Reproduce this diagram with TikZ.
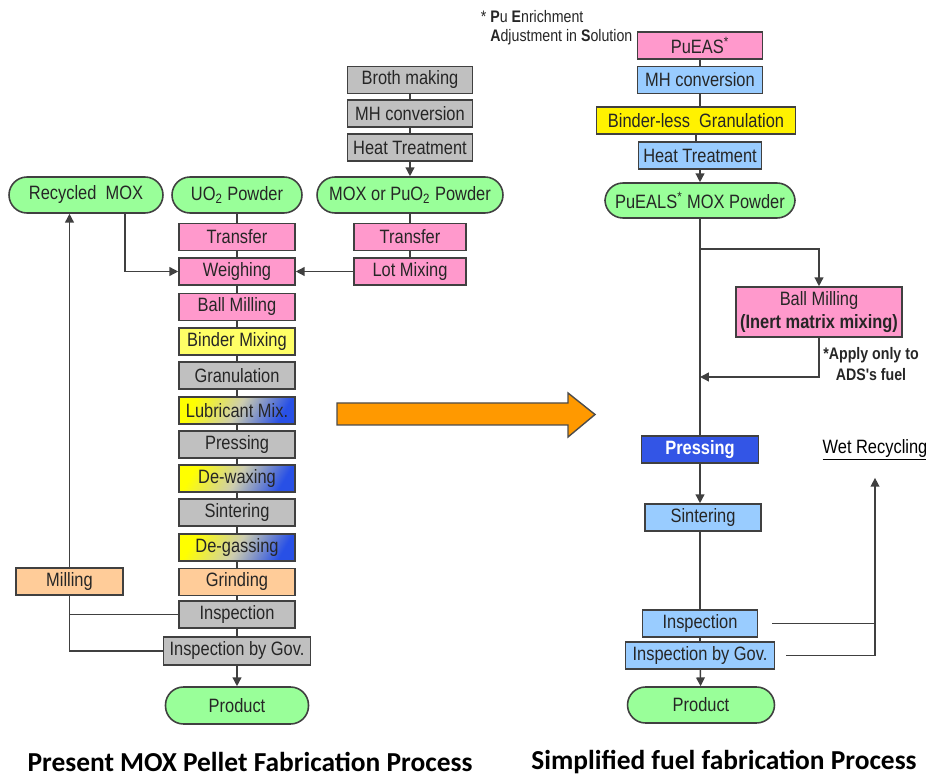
\documentclass[tikz,border=0pt]{standalone}
\usepackage{fontspec}
\setmainfont{Liberation Sans}
\newfontfamily\boxfont[FakeStretch=0.85]{Liberation Sans}
\newfontfamily\titlefont{Carlito}
\usetikzlibrary{calc,arrows.meta}

\definecolor{pinkfill}{HTML}{FF99CC}
\definecolor{grayfill}{HTML}{C0C0C0}
\definecolor{yellowfill}{HTML}{FFFF66}
\definecolor{bluefill}{HTML}{99CCFF}
\definecolor{greenfill}{HTML}{99FF99}
\definecolor{salmonfill}{HTML}{FFCC99}
\definecolor{pressblue}{RGB}{51,85,230}
\definecolor{gradblue}{RGB}{40,80,230}
\definecolor{gradmid}{RGB}{205,205,175}
\definecolor{arroworange}{HTML}{FF9900}

\begin{document}
\begin{tikzpicture}[x=0.02cm, y=-0.02cm,
		font=\boxfont\fontsize{11}{13}\selectfont,
		box/.style={draw=black!75, line width=0.9pt, text=black!85, inner sep=0pt,
			minimum width=2.32cm, minimum height=0.54cm},
		pinkbox/.style={box, fill=pinkfill},
		graybox/.style={box, fill=grayfill},
		yellowbox/.style={box, fill=yellowfill},
		bluebox/.style={box, fill=bluefill},
		salmonbox/.style={box, fill=salmonfill},
		gradbox/.style={box, left color=yellow, right color=gradblue, middle color=gradmid, shading angle=60},
		pill/.style={box, fill=greenfill, rounded corners=0.36cm, minimum height=0.72cm},
		link/.style={draw=black!75, line width=0.8pt},
		arr/.style={link, -{Triangle[length=5pt,width=5pt]}},
		note/.style={font=\boxfont\fontsize{9.5}{11}\selectfont, text=black!85, inner sep=0pt},
		heading/.style={font=\titlefont\bfseries\fontsize{15.6}{18}\selectfont}]
	\useasboundingbox (0,0) rectangle (926,776);
	
	% present process
	\node[pill, minimum width=3.08cm] (recyc) at (86,195) {Recycled \ MOX};
	\node[pill, minimum width=2.6cm] (uo) at (237,195) {UO\textsubscript{2} Powder};
	\node[pill, minimum width=3.72cm] (moxp) at (410,195) {MOX or PuO\textsubscript{2} Powder};
	
	\foreach \n/\t/\y in {broth/Broth making/80, mhL/MH conversion/113.5, heatL/Heat Treatment/147.5}
		\node[graybox, minimum width=2.5cm] (\n) at (410,\y) {\t};
	\node[pinkbox, minimum width=2.24cm] (transR) at (410,237) {Transfer};
	\node[pinkbox, minimum width=2.24cm] (lotmix) at (410,271.5) {Lot Mixing};
	
	\foreach \n/\t/\s/\y in {transL/Transfer/pinkbox/237, weigh/Weighing/pinkbox/271.5,
		ballL/Ball Milling/pinkbox/307, binder/Binder Mixing/yellowbox/341.5,
		granul/Granulation/graybox/375.5, lubric/Lubricant Mix./gradbox/410.5,
		pressL/Pressing/graybox/444.5, dewax/De-waxing/gradbox/478.5,
		sinterL/Sintering/graybox/512.5, degas/De-gassing/gradbox/547.5,
		grind/Grinding/salmonbox/582, inspL/Inspection/graybox/614.5}
		\node[\s] (\n) at (237,\y) {\t};
	\node[graybox, minimum width=2.94cm, minimum height=0.56cm] (govL) at (237,651) {Inspection by Gov.};
	\node[pill, minimum width=2.86cm, minimum height=0.74cm] (prodL) at (237,705.5) {Product};
	\node[salmonbox, minimum width=2.14cm] (mill) at (69.5,581.5) {Milling};
	
	\foreach \a/\b in {uo/transL, transL/weigh, weigh/ballL, ballL/binder, binder/granul,
		granul/lubric, lubric/pressL, pressL/dewax, dewax/sinterL, sinterL/degas,
		degas/grind, grind/inspL, inspL/govL, broth/mhL, mhL/heatL, moxp/transR, transR/lotmix}
		\draw[link] (\a) -- (\b);
	\draw[arr] (heatL) -- (moxp);
	\draw[arr] (govL) -- (prodL);
	\draw[arr] ([xshift=0.78cm]recyc.south) |- (weigh.west);
	\draw[arr] (lotmix) -- (weigh);
	\draw[arr] (mill) -- (mill |- recyc.south);
	\draw[link] (mill.south) |- (inspL.west);
	\draw[link] (mill.south) |- (govL.west);
	
	% change of process
	\draw[fill=arroworange, draw=black!70, line width=0.8pt]
		(337,403) -- (568,403) -- (568,393) -- (595,414.5) -- (568,437) -- (568,425) -- (337,425) -- cycle;
	
	% simplified process
	\node[note, anchor=north west, align=left] (puNote) at (490,10)
		{\llap{*\ }\textbf{P}u \textbf{E}nrichment\\\textbf{A}djustment in \textbf{S}olution};
	\node[pinkbox, minimum width=2.5cm] (pueas) at (700,45.5) {PuEAS\textsuperscript{*}};
	\node[bluebox, minimum width=2.5cm] (mhR) at (700,80) {MH conversion};
	\node[box, fill=yellow, minimum width=3.98cm] (binderless) at (696,120.5) {Binder-less \ Granulation};
	\node[bluebox, minimum width=2.46cm] (heatR) at (700,155.5) {Heat Treatment};
	\node[pill, minimum width=3.8cm, minimum height=0.7cm] (pueals) at (700,200.5) {PuEALS\textsuperscript{*} MOX Powder};
	\node[pinkbox, minimum width=3.32cm, minimum height=1cm, align=center] (ballR) at (819,312)
		{Ball Milling\\\textbf{(Inert matrix mixing)}};
	\node[note, font=\boxfont\bfseries\fontsize{9.5}{11.5}\selectfont, align=center] (adsNote) at (871,364)
		{*Apply only to\\ADS's fuel};
	\node[box, fill=pressblue, text=white, font=\boxfont\bfseries\fontsize{11}{13}\selectfont,
		minimum width=2.34cm] (pressR) at (700,449.5) {Pressing};
	\node[bluebox] (sinterR) at (703,517.5) {Sintering};
	\node[bluebox, minimum width=2.3cm] (inspR) at (700,623.5) {Inspection};
	\node[bluebox, minimum width=2.98cm] (govR) at (700,655.5) {Inspection by Gov.};
	\node[pill, minimum width=2.94cm] (prodR) at (701,705) {Product};
	\node[inner sep=1pt] (wet) at (875,450) {\underline{Wet Recycling}};
	
	\coordinate (split) at (700,249);
	\coordinate (join) at (700,377);
	\foreach \a/\b in {pueas/mhR, mhR/binderless, binderless/heatR, pueals/pressR, inspR/govR}
		\draw[link] (\a.south |- \a.south) -- (\a.south |- \b.north);
	\draw[link] (sinterR.south -| pressR) -- (inspR.north);
	\draw[arr] (heatR) -- (pueals);
	\draw[arr] (split) -| (ballR.north);
	\draw[arr] (ballR.south) |- (join);
	\draw[arr] (pressR.south) -- (pressR.south |- sinterR.north);
	\draw[arr] (govR) -- (prodR);
	\draw[arr] ([xshift=0.22cm]govR.east) -| ([yshift=-0.3cm]wet.south);
	\draw[link] ([xshift=0.28cm]inspR.east) -- (inspR.east -| wet.south);
	
	% titles
	\node[heading] (titleL) at (250,762) {Present MOX Pellet Fabrication Process};
	\node[heading] (titleR) at (724,762) {Simplified fuel fabrication Process};
\end{tikzpicture}
\end{document}
